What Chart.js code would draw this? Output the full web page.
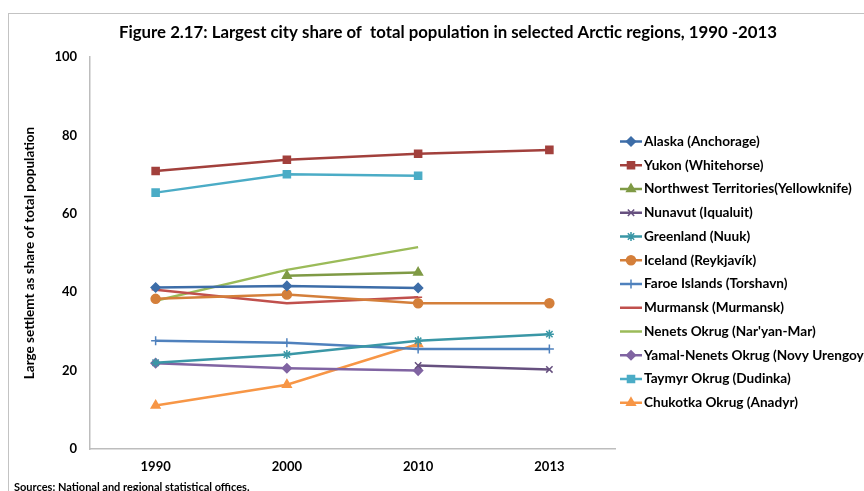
<!DOCTYPE html>
<html>
<head>
<meta charset="utf-8">
<script src="https://cdn.jsdelivr.net/npm/chart.js@4/dist/chart.umd.min.js"></script>
<style>
  html, body { margin: 0; padding: 0; background: #fff; }
  #wrap { position: relative; width: 864px; height: 491px; }
</style>
</head>
<body>
<div id="wrap"><canvas id="chart" width="864" height="491"></canvas></div>
<script>
const FONT = 'Lato, "Open Sans", sans-serif';

const years = ['1990', '2000', '2010', '2013'];

const alaska    = [41.2, 41.6, 41.1, null];
const yukon     = [70.9, 73.8, 75.3, 76.3];
const nwt       = [null, 44.2, 45.0, null];
const nunavut   = [null, null, 21.3, 20.3];
const greenland = [22.0, 24.1, 27.6, 29.3];
const iceland   = [38.3, 39.4, 37.2, 37.2];
const faroe     = [27.6, 27.1, 25.5, 25.5];
const murmansk  = [40.6, 37.2, 38.7, null];
const nenets    = [37.8, 45.7, 51.5, null];
const yamal     = [21.9, 20.6, 20.0, null];
const taymyr    = [65.4, 70.1, 69.7, null];
const chukotka  = [11.1, 16.4, 26.8, null];

const yTicks = [0, 20, 40, 60, 80, 100];

function series(label, data, color, pointStyle, radius) {
  return {
    label, data,
    borderColor: color,
    backgroundColor: color,
    pointBackgroundColor: color,
    pointBorderColor: color,
    borderWidth: 2.5,
    pointStyle: pointStyle || false,
    pointRadius: pointStyle ? radius : 0,
    pointBorderWidth: 1.5,
    tension: 0,
  };
}

const datasets = [
  series('Alaska (Anchorage)', alaska, '#3d6da8', 'rectRot', 4.5),
  series('Yukon (Whitehorse)', yukon, '#a2403c', 'rect', 5),
  series('Northwest Territories(Yellowknife)', nwt, '#7f9a45', 'triangle', 5),
  series('Nunavut (Iqualuit)', nunavut, '#66507f', 'crossRot', 4.5),
  series('Greenland (Nuuk)', greenland, '#3a97a6', 'star', 4.5),
  series('Iceland (Reykjavík)', iceland, '#d47f3a', 'circle', 4.5),
  series('Faroe Islands (Torshavn)', faroe, '#4f81bd', 'cross', 4.5),
  series('Murmansk (Murmansk)', murmansk, '#c0504d', 'line', 4),
  series('Nenets Okrug (Nar\'yan-Mar)', nenets, '#9bbb59', null, 0),
  series('Yamal-Nenets Okrug (Novy Urengoy)', yamal, '#8064a2', 'rectRot', 4.5),
  series('Taymyr Okrug (Dudinka)', taymyr, '#4bacc6', 'rect', 5),
  series('Chukotka Okrug (Anadyr)', chukotka, '#f79646', 'triangle', 5),
];

// frame, title, legend and source note
const decorations = {
  id: 'decorations',
  beforeDraw(chart) {
    const ctx = chart.ctx;
    ctx.save();
    ctx.strokeStyle = '#c3c3c3';
    ctx.lineWidth = 1;
    ctx.strokeRect(8.5, 13.5, 900, 600);
    ctx.restore();
  },
  afterDraw(chart) {
    const ctx = chart.ctx;
    ctx.save();
    ctx.fillStyle = '#000';
    ctx.textBaseline = 'middle';
    ctx.textAlign = 'center';
    ctx.font = 'bold 16.8px ' + FONT;
    ctx.fillText('Figure 2.17: Largest city share of  total population in selected Arctic regions, 1990 -2013', 448, 33);

    ctx.textAlign = 'left';
    ctx.font = 'bold 13.6px ' + FONT;
    chart.data.datasets.forEach((ds, i) => {
      const y = 141.5 + i * 23.75;
      ctx.strokeStyle = ds.borderColor;
      ctx.fillStyle = ds.borderColor;
      ctx.lineWidth = 2.5;
      ctx.beginPath();
      ctx.moveTo(620, y);
      ctx.lineTo(642, y);
      ctx.stroke();
      if (ds.pointStyle) {
        ctx.lineWidth = 1.5;
        Chart.helpers.drawPoint(ctx, { pointStyle: ds.pointStyle, radius: ds.pointRadius, rotation: 0, borderWidth: 1.5 }, 631, y);
      }
      ctx.fillStyle = '#000';
      ctx.fillText(ds.label, 644, y);
    });

    ctx.font = 'bold 11px ' + FONT;
    ctx.fillText('Sources: National and regional statistical offices.', 14, 487);
    ctx.restore();
  }
};

new Chart(document.getElementById('chart'), {
  type: 'line',
  data: { labels: years, datasets },
  plugins: [decorations],
  options: {
    responsive: false,
    animation: false,
    layout: { padding: { top: 57, right: 249, left: 0, bottom: 0 } },
    plugins: {
      legend: { display: false },
      title: { display: false },
      tooltip: { enabled: false },
    },
    scales: {
      x: {
        offset: true,
        grid: { display: false, drawTicks: false },
        border: { color: '#bdbdbd', width: 1.5 },
        ticks: { color: '#000', font: { family: FONT, size: 13, weight: 'bold' }, padding: 10 },
        afterFit: s => { s.height = 42; },
      },
      y: {
        min: 0, max: 100,
        grid: { display: false, drawTicks: false },
        border: { color: '#bdbdbd', width: 1.5 },
        afterBuildTicks: s => { s.ticks = yTicks.map(v => ({ value: v })); },
        ticks: { color: '#000', font: { family: FONT, size: 13, weight: 'bold' }, padding: 13 },
        title: {
          display: true,
          text: 'Large settlemt as share of total population',
          color: '#000',
          font: { family: FONT, size: 13.5, weight: 'bold' },
          padding: { top: 22, bottom: 0 },
        },
        afterFit: s => { s.width = 90; },
      },
    },
  },
});
</script>
</body>
</html>
